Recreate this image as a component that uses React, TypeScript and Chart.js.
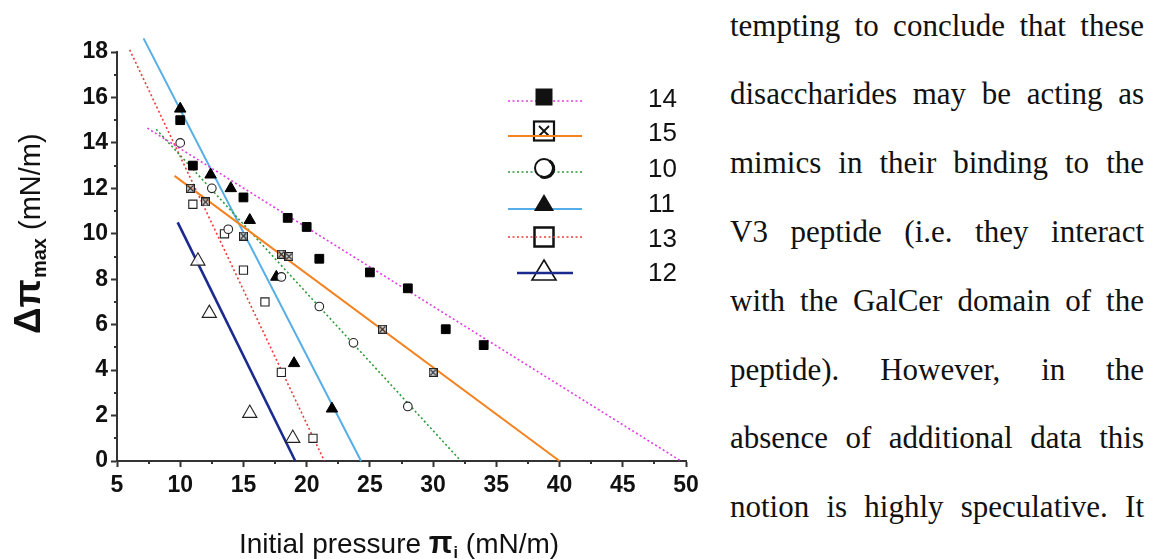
import React, { useEffect, useRef } from 'react';
import { Chart, registerables } from 'chart.js';

Chart.register(...registerables);

// ---------- data ----------
const xMin = 5;
const xMax = 50;
const yMin = 0;
const yMax = 18;
const xStep = 5;
const yStep = 2;

const seriesLabels = ['14', '15', '10', '11', '13', '12'];

// compound 14 (filled squares, magenta dotted fit)
const s14x = [10, 11, 15, 18.5, 20, 21, 25, 28, 31, 34];
const s14y = [15, 13, 11.6, 10.7, 10.3, 8.9, 8.3, 7.6, 5.8, 5.1];
const fit14x = [7.4, 49.6];
const fit14y = [14.65, 0];

// compound 15 (boxed x, orange solid fit)
const s15x = [10.8, 12, 15, 18, 18.6, 26, 30];
const s15y = [12, 11.4, 9.9, 9.1, 9.0, 5.8, 3.9];
const fit15x = [9.55, 40];
const fit15y = [12.55, 0];

// compound 10 (open circles, green dotted fit)
const s10x = [10, 12.5, 13.8, 18, 21, 23.7, 28];
const s10y = [14, 12, 10.2, 8.1, 6.8, 5.2, 2.4];
const fit10x = [8.1, 32.2];
const fit10y = [14.6, 0];

// compound 11 (filled triangles, light blue solid fit)
const s11x = [10, 12.4, 14, 15.5, 17.6, 19, 22];
const s11y = [15.5, 12.6, 12, 10.6, 8.1, 4.3, 2.3];
const fit11x = [7.1, 24.3];
const fit11y = [18.6, 0];

// compound 13 (open squares, red dotted fit)
const s13x = [11, 13.5, 15, 16.7, 18, 20.5];
const s13y = [11.3, 10, 8.4, 7, 3.9, 1.0];
const fit13x = [6.0, 21.4];
const fit13y = [18.1, 0];

// compound 12 (open triangles, navy solid fit)
const s12x = [11.4, 12.3, 15.5, 18.9];
const s12y = [8.8, 6.5, 2.1, 1.0];
const fit12x = [9.8, 19.1];
const fit12y = [10.5, 0];

const textLines = [
  'tempting to conclude that these',
  'disaccharides may be acting as',
  'mimics in their binding to the',
  'V3 peptide (i.e. they interact',
  'with the GalCer domain of the',
  'peptide). However, in the',
  'absence of additional data this',
  'notion is highly speculative. It',
];

// ---------- styles ----------
const SANS = '"Liberation Sans", Arial, Helvetica, sans-serif';
const AXIS = '#333333';
const lineColors = ['#e33be3', '#f5821f', '#2f9a3a', '#56aee8', '#ee3a3a', '#1b2a8f'];
const lineDash = [[2, 2.5], [], [2, 2.5], [], [2, 2.5], []];
const lineWidths = [1.6, 2, 1.6, 2, 1.6, 2.6];

const pts = (xs: number[], ys: number[]) => xs.map((x, i) => ({ x, y: ys[i] }));

function makeBoxX(size: number, lw: number) {
  const c = document.createElement('canvas');
  c.width = size;
  c.height = size;
  const g = c.getContext('2d')!;
  g.fillStyle = 'rgba(200,200,200,0.6)';
  g.fillRect(0, 0, size, size);
  g.strokeStyle = '#222';
  g.lineWidth = lw;
  const h = lw / 2;
  g.strokeRect(h, h, size - lw, size - lw);
  g.beginPath();
  g.moveTo(lw + 0.5, lw + 0.5);
  g.lineTo(size - lw - 0.5, size - lw - 0.5);
  g.moveTo(size - lw - 0.5, lw + 0.5);
  g.lineTo(lw + 0.5, size - lw - 0.5);
  g.stroke();
  return c;
}

function drawMarker(ctx: CanvasRenderingContext2D, kind: number, x: number, y: number) {
  ctx.save();
  ctx.setLineDash([]);
  ctx.strokeStyle = '#111';
  ctx.fillStyle = '#111';
  ctx.beginPath();
  if (kind === 0) {
    ctx.fillRect(x - 8.5, y - 8.5, 17, 17);
  } else if (kind === 1) {
    ctx.lineWidth = 2.2;
    ctx.strokeRect(x - 10, y - 9.5, 20, 19);
    ctx.lineWidth = 1.8;
    ctx.beginPath();
    ctx.moveTo(x - 5, y - 5);
    ctx.lineTo(x + 5, y + 5);
    ctx.moveTo(x + 5, y - 5);
    ctx.lineTo(x - 5, y + 5);
    ctx.stroke();
  } else if (kind === 2) {
    ctx.fillStyle = '#fff';
    ctx.beginPath();
    ctx.arc(x, y, 9, 0, Math.PI * 2);
    ctx.fill();
    ctx.lineWidth = 2;
    ctx.stroke();
    ctx.lineWidth = 3;
    ctx.beginPath();
    ctx.arc(x + 0.8, y + 0.5, 9, -Math.PI / 3, Math.PI * 0.65);
    ctx.stroke();
  } else if (kind === 3) {
    ctx.beginPath();
    ctx.moveTo(x, y - 9);
    ctx.lineTo(x + 10, y + 8);
    ctx.lineTo(x - 10, y + 8);
    ctx.closePath();
    ctx.fill();
  } else if (kind === 4) {
    ctx.lineWidth = 2.5;
    ctx.strokeRect(x - 9.5, y - 9.5, 19, 19);
  } else {
    ctx.lineWidth = 1.6;
    ctx.beginPath();
    ctx.moveTo(x, y - 11);
    ctx.lineTo(x + 12, y + 9);
    ctx.lineTo(x - 12, y + 9);
    ctx.closePath();
    ctx.stroke();
  }
  ctx.beginPath();
  ctx.restore();
}

function drawLegendLine(ctx: CanvasRenderingContext2D, i: number, x1: number, x2: number, y: number) {
  ctx.save();
  ctx.strokeStyle = lineColors[i];
  ctx.lineWidth = lineWidths[i];
  ctx.setLineDash(lineDash[i]);
  ctx.beginPath();
  ctx.moveTo(x1, y);
  ctx.lineTo(x2, y);
  ctx.stroke();
  ctx.beginPath();
  ctx.restore();
}

const decorPlugin = {
  id: 'decor',
  afterDraw(chart: any) {
    const ctx: CanvasRenderingContext2D = chart.ctx;
    const xs = chart.scales.x;
    const ys = chart.scales.y;
    const area = chart.chartArea;
    ctx.save();
    // minor ticks
    ctx.strokeStyle = AXIS;
    ctx.lineWidth = 2;
    ctx.beginPath();
    for (let v = yMin + yStep / 2; v < yMax; v += yStep) {
      const py = Math.round(ys.getPixelForValue(v));
      ctx.moveTo(area.left - 3, py);
      ctx.lineTo(area.left, py);
    }
    for (let v = xMin + xStep / 2; v < xMax; v += xStep) {
      const px = Math.round(xs.getPixelForValue(v));
      ctx.moveTo(px, area.bottom);
      ctx.lineTo(px, area.bottom + 3);
    }
    ctx.stroke();
    ctx.beginPath();

    // y axis title
    ctx.fillStyle = '#111';
    ctx.textBaseline = 'alphabetic';
    ctx.textAlign = 'left';
    ctx.save();
    ctx.translate(40, 334);
    ctx.rotate(-Math.PI / 2);
    ctx.font = `bold 37px ${SANS}`;
    ctx.fillText('Δπ', 0, 0);
    let w = ctx.measureText('Δπ').width;
    ctx.font = `bold 20px ${SANS}`;
    ctx.fillText('max', w + 1, 6);
    w += 1 + ctx.measureText('max').width;
    ctx.font = `29px ${SANS}`;
    ctx.fillText(' (mN/m)', w, 0);
    ctx.restore();

    // x axis title
    let x0 = 239;
    ctx.font = `28px ${SANS}`;
    ctx.fillText('Initial pressure ', x0, 553);
    x0 += ctx.measureText('Initial pressure ').width;
    ctx.font = `bold 31px ${SANS}`;
    ctx.fillText('π', x0, 553);
    x0 += ctx.measureText('π').width;
    ctx.font = `bold 16px ${SANS}`;
    ctx.fillText('i', x0 + 1, 558);
    x0 += 1 + ctx.measureText('i').width;
    ctx.font = `28px ${SANS}`;
    ctx.fillText(' (mN/m)', x0, 553);

    // legend
    const rowMarkerY = [97, 131, 168, 203, 237, 271];
    const rowLineY = [101, 136, 172, 209, 237, 273];
    const rowTextY = [107, 141, 177, 212, 247, 281];
    const lineOnTop = [false, true, false, false, true, true];
    for (let i = 0; i < seriesLabels.length; i++) {
      const lx1 = i === 5 ? 517 : 508;
      const lx2 = i === 5 ? 573 : 582;
      if (lineOnTop[i]) {
        drawMarker(ctx, i, 544, rowMarkerY[i]);
        drawLegendLine(ctx, i, lx1, lx2, rowLineY[i]);
      } else {
        drawLegendLine(ctx, i, lx1, lx2, rowLineY[i]);
        drawMarker(ctx, i, 544, rowMarkerY[i]);
      }
      ctx.fillStyle = '#111';
      ctx.font = `26px ${SANS}`;
      ctx.fillText(seriesLabels[i], 648, rowTextY[i]);
    }
    ctx.restore();
  },
};

export default function App() {
  const ref = useRef<HTMLCanvasElement | null>(null);

  useEffect(() => {
    if (!ref.current) return;
    const boxX = makeBoxX(9, 1.2);
    const scatterStyle = [
      { pointStyle: 'rect', pointRadius: 6.2, backgroundColor: '#000', borderColor: '#000', borderWidth: 1 },
      { pointStyle: boxX, pointRadius: 5, backgroundColor: '#fff', borderColor: '#222', borderWidth: 1 },
      { pointStyle: 'circle', pointRadius: 4.3, backgroundColor: 'rgba(255,255,255,0.9)', borderColor: '#222', borderWidth: 1.1 },
      { pointStyle: 'triangle', pointRadius: 6.6, backgroundColor: '#000', borderColor: '#000', borderWidth: 1 },
      { pointStyle: 'rect', pointRadius: 5.8, backgroundColor: 'rgba(255,255,255,0.9)', borderColor: '#222', borderWidth: 1.1 },
      { pointStyle: 'triangle', pointRadius: 8.2, backgroundColor: 'rgba(255,255,255,0.9)', borderColor: '#222', borderWidth: 1.1 },
    ];
    const scatterData = [pts(s14x, s14y), pts(s15x, s15y), pts(s10x, s10y), pts(s11x, s11y), pts(s13x, s13y), pts(s12x, s12y)];
    const fitData = [pts(fit14x, fit14y), pts(fit15x, fit15y), pts(fit10x, fit10y), pts(fit11x, fit11y), pts(fit13x, fit13y), pts(fit12x, fit12y)];

    const datasets: any[] = [];
    scatterData.forEach((d, i) => {
      datasets.push({
        label: seriesLabels[i],
        data: d,
        showLine: false,
        clip: false,
        ...scatterStyle[i],
      });
    });
    fitData.forEach((d, i) => {
      datasets.push({
        label: seriesLabels[i] + ' fit',
        data: d,
        showLine: true,
        clip: false,
        pointRadius: 0,
        borderColor: lineColors[i],
        borderWidth: lineWidths[i],
        borderDash: lineDash[i],
        fill: false,
      });
    });

    const tickFont = { family: SANS, size: 23, weight: 'bold' };
    const chart = new Chart(ref.current, {
      type: 'scatter',
      data: { datasets },
      options: {
        responsive: false,
        animation: false,
        devicePixelRatio: 1,
        events: [],
        layout: { padding: { left: 0, right: 14, top: 52, bottom: 0 } },
        plugins: { legend: { display: false }, tooltip: { enabled: false } },
        scales: {
          x: {
            type: 'linear',
            min: xMin,
            max: xMax,
            afterFit: (s: any) => { s.height = 98; s.paddingLeft = 0; s.paddingRight = 0; },
            ticks: { stepSize: xStep, font: tickFont, color: '#111', padding: 5, maxRotation: 0, autoSkip: false },
            grid: { display: true, drawOnChartArea: false, drawTicks: true, tickLength: 6, tickColor: AXIS, tickWidth: 2 },
            border: { display: true, color: AXIS, width: 2 },
          },
          y: {
            type: 'linear',
            min: yMin,
            max: yMax,
            afterFit: (s: any) => { s.width = 117; s.paddingTop = 0; s.paddingBottom = 0; },
            ticks: { stepSize: yStep, font: tickFont, color: '#111', padding: 3, autoSkip: false },
            grid: { display: true, drawOnChartArea: false, drawTicks: true, tickLength: 6, tickColor: AXIS, tickWidth: 2 },
            border: { display: true, color: AXIS, width: 2 },
          },
        },
      } as any,
      plugins: [decorPlugin],
    });
    return () => chart.destroy();
  }, []);

  return (
    <div style={{ position: 'fixed', left: 0, top: 0, width: 1152, height: 559, background: '#fff', overflow: 'hidden' }}>
      <canvas ref={ref} width={700} height={559} style={{ position: 'absolute', left: 0, top: 0, width: 700, height: 559 }} />
      {textLines.map((t, i) => (
        <div
          key={i}
          style={{
            position: 'absolute',
            left: 730,
            top: 9.5 + 68.8 * i,
            width: 414,
            fontFamily: '"Liberation Serif", "Times New Roman", serif',
            fontSize: 31,
            lineHeight: '31px',
            color: '#111',
            textAlign: 'justify',
            textAlignLast: 'justify',
            whiteSpace: 'nowrap',
          }}
        >
          {t}
        </div>
      ))}
    </div>
  );
}
